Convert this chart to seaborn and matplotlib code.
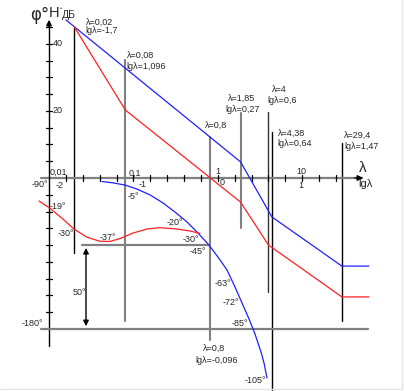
import matplotlib
matplotlib.use("Agg")
import matplotlib.pyplot as plt
import seaborn as sns

sns.set_style("white")
plt.rcParams["font.family"] = ["Liberation Sans", "DejaVu Sans"]

# amplitude characteristics (lg lambda, dB)
mag_blue_lg = [-1.8, 0.27, 0.64, 1.47, 1.79]
mag_blue_db = [47.2, 4.8, -11.6, -26.3, -26.3]
mag_red_lg = [-1.7, -1.096, 0.27, 0.6, 1.47, 1.79]
mag_red_db = [45.1, 20.3, -7.2, -20.0, -35.5, -35.5]

# phase characteristics (lg lambda, degrees on the phase axis)
ph_blue_lg = [-1.372, -1.242, -1.100, -0.957, -0.803, -0.649, -0.507, -0.365, -0.235, -0.116,
              0.002, 0.109, 0.204, 0.287, 0.370, 0.441, 0.512, 0.548, 0.583]
ph_blue_deg = [-92.1, -92.9, -94.2, -96.6, -100.1, -104.9, -110.3, -116.2, -122.8, -129.3,
               -137.1, -144.8, -155.0, -164.5, -174.0, -183.0, -193.7, -200.3, -209.2]
ph_red_lg = [-2.118, -1.988, -1.846, -1.704, -1.550, -1.396, -1.277, -1.159, -1.005, -0.839,
             -0.685, -0.483, -0.329, -0.211]
ph_red_deg = [-103.7, -108.1, -114.0, -120.4, -125.3, -127.7, -127.8, -126.1, -122.8, -120.4,
              -119.6, -120.4, -121.6, -123.0]

# marked frequencies: lg lambda, top (dB), bottom (phase deg)
mark_lg = [-1.7, -1.096, -0.096, 0.27, 0.6, 0.64, 1.47]
mark_top_db = [44.8, 35.2, 12.2, 19.4, 19.7, 13.7, 10.4]
mark_bot_deg = [-134.7, -175.2, -186.5, -119.8, -157.9, -216.9, -175.2]
mark_col = ["black", "#808080", "#808080", "#808080", "#333333", "black", "black"]

margin_deg = -130
crit_deg = -180

K = 1.678 / 3.35  # phase degrees -> dB units on the shared vertical scale


def ph(d):
    return (d + 90) * K


def P(x, y):
    # pixel position in the 404x391 picture -> data coords (text placement only)
    return -2 + (x - 49) / 84.4, (178 - y) / 3.35


fig = plt.figure(figsize=(4.04, 3.91), dpi=100)
ax = fig.add_axes([0, 0, 1, 1])
ax.set_xlim(-2.5806, 2.2062)
ax.set_ylim(-63.58, 53.13)
ax.axis("off")

# faint picture border (right / bottom)
ax.plot([P(402.5, 0)[0]] * 2, [P(0, 0)[1], P(0, 389)[1]], color="#e4e4e4", lw=1)
ax.plot([P(0, 0)[0], P(402.5, 0)[0]], [P(0, 389)[1]] * 2, color="#e4e4e4", lw=1)

# vertical marker lines
for x, t, b, c in zip(mark_lg, mark_top_db, mark_bot_deg, mark_col):
    ax.plot([x, x], [t, ph(b)], color=c, lw=1.5 if c == "#808080" else 1.0, zorder=1)

# axes
gray = "#808080"
ax.plot([P(41, 0)[0], P(362, 0)[0]], [0, 0], color=gray, lw=1.6, zorder=2)
ax.annotate("", xy=(P(366, 0)[0], 0), xytext=(P(352, 0)[0], 0),
            arrowprops=dict(arrowstyle="-|>", color="black", lw=1, mutation_scale=8))
ax.plot([-2, -2], [ph(-190.1), P(0, 22)[1]], color="black", lw=1.0, zorder=2)
ax.annotate("", xy=(-2, P(0, 17)[1]), xytext=(-2, P(0, 30)[1]),
            arrowprops=dict(arrowstyle="-|>", color="black", lw=1, mutation_scale=8))
for v in range(5, 50, 5):
    ax.plot([-2.036, -1.964], [v, v], color="black", lw=0.9)
for d in range(-100, -180, -10):
    ax.plot([-2.036, -1.964], [ph(d), ph(d)], color="black", lw=0.9)
for i in range(17):
    x = -1.8 + 0.2 * i
    ax.plot([x, x], [-0.9, 0.9], color="black", lw=0.9)

# phase reference lines
ax.plot([P(82, 0)[0], -0.092], [ph(margin_deg)] * 2, color=gray, lw=1.6)
ax.plot([P(41, 0)[0], 1.78], [ph(crit_deg)] * 2, color=gray, lw=1.6)
ax.annotate("", xy=(P(86, 0)[0], ph(crit_deg)), xytext=(P(86, 0)[0], ph(margin_deg)),
            arrowprops=dict(arrowstyle="<|-|>", color="black", lw=1, mutation_scale=8))

# curves
kw = dict(estimator=None, sort=False, ax=ax, legend=False, lw=0.9)
sns.lineplot(x=mag_blue_lg, y=mag_blue_db, color="#2020ff", **kw)
sns.lineplot(x=mag_red_lg, y=mag_red_db, color="#ff2020", **kw)
sns.lineplot(x=ph_blue_lg, y=[ph(d) for d in ph_blue_deg], color="#2020ff", **kw)
sns.lineplot(x=ph_red_lg, y=[ph(d) for d in ph_red_deg], color="#ff2020", **kw)

# texts
ax.text(*P(30, 15), "φ°", fontsize=12, va="center", ha="left", family="DejaVu Sans")
ax.text(*P(49, 13), "H", fontsize=10.5, va="center", ha="left")
ax.text(*P(60, 9), "•", fontsize=4, va="center", ha="left")
ax.text(*P(62, 15), "ДБ", fontsize=7.5, va="center", ha="left")

labels = [
    ("λ=0,02", 86, 22), ("lgλ=-1,7", 85, 31),
    ("λ=0,08", 127, 55), ("lgλ=1,096", 126, 67),
    ("λ=0,8", 205, 125),
    ("λ=1,85", 228, 98), ("lgλ=0,27", 225, 110),
    ("λ=4", 272, 90), ("lgλ=0,6", 267, 101),
    ("λ=4,38", 278, 133), ("lgλ=0,64", 277, 144),
    ("λ=29,4", 344, 135), ("lgλ=1,47", 344, 147),
    ("0,01", 50, 172), ("-2", 56, 186), ("-90°", 32, 185),
    ("0,1", 129, 173), ("-1", 139, 185),
    ("1", 215, 172), ("0", 220, 183),
    ("10", 296, 172), ("1", 298, 186),
    ("40", 53, 44), ("20", 53, 111),
    ("-19°", 50, 207), ("-30°", 58, 234), ("-37°", 100, 238),
    ("-5°", 128, 197), ("-20°", 167, 223), ("-30°", 183, 240),
    ("-45°", 190, 252), ("-63°", 215, 283), ("-72°", 223, 302),
    ("-85°", 232, 323), ("-105°", 245, 380),
    ("λ=0,8", 203, 348), ("lgλ=-0,096", 195, 360),
    ("50°", 73, 292), ("-180°", 22, 323),
]
for s, x, y in labels:
    ax.text(*P(x, y), s, fontsize=6.5, va="center", ha="left")
ax.text(*P(359, 168), "λ", fontsize=11, va="center", ha="left")
ax.text(*P(358, 184), "lgλ", fontsize=8, va="center", ha="left")

fig.savefig("out.png", dpi=100)
